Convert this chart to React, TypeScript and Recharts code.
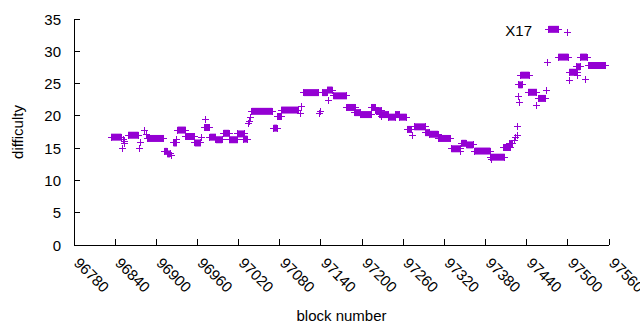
import React from "react";
import { ScatterChart, Scatter, XAxis, YAxis } from "recharts";

const PURPLE = "#9400d3";
const FONT = "'Liberation Sans', Arial, sans-serif";

const xTicks = [96780, 96840, 96900, 96960, 97020, 97080, 97140, 97200, 97260, 97320, 97380, 97440, 97500, 97560];
const yTicks = [0, 5, 10, 15, 20, 25, 30, 35];

// consecutive blocks at one difficulty: [first block, last block, difficulty]
const runs: [number, number, number][] = [
  [96834, 96849, 16.7],
  [96859, 96874, 17.0],
  [96887, 96911, 16.5],
  [96912, 96916, 14.5],
  [96916, 96920, 14.1],
  [96925, 96930, 15.8],
  [96931, 96943, 17.8],
  [96943, 96955, 16.8],
  [96956, 96965, 15.8],
  [96970, 96978, 18.2],
  [96978, 96987, 16.7],
  [96987, 96996, 16.3],
  [96998, 97006, 17.3],
  [97006, 97019, 16.3],
  [97019, 97028, 17.2],
  [97027, 97033, 16.4],
  [97039, 97069, 20.7],
  [97071, 97076, 18.1],
  [97076, 97082, 19.9],
  [97082, 97108, 20.9],
  [97115, 97137, 23.6],
  [97142, 97149, 23.6],
  [97149, 97157, 24.0],
  [97158, 97178, 23.1],
  [97178, 97190, 21.3],
  [97189, 97197, 20.5],
  [97197, 97214, 20.2],
  [97214, 97220, 21.3],
  [97220, 97229, 20.8],
  [97225, 97238, 20.2],
  [97238, 97248, 19.8],
  [97248, 97255, 20.2],
  [97255, 97265, 19.8],
  [97266, 97272, 17.9],
  [97276, 97292, 18.3],
  [97292, 97299, 17.4],
  [97299, 97311, 17.15],
  [97311, 97329, 16.5],
  [97330, 97343, 14.9],
  [97345, 97352, 15.75],
  [97352, 97362, 15.5],
  [97364, 97387, 14.55],
  [97387, 97408, 13.6],
  [97406, 97416, 15.1],
  [97415, 97420, 15.7],
  [97428, 97434, 24.8],
  [97431, 97444, 26.3],
  [97442, 97455, 23.65],
  [97457, 97468, 22.7],
  [97472, 97487, 33.4],
  [97486, 97501, 29.1],
  [97502, 97514, 26.75],
  [97513, 97518, 27.6],
  [97518, 97528, 29.1],
  [97530, 97555, 27.8],
];

// isolated blocks: [block, difficulty]
const singles: [number, number][] = [
  [96850, 15.0], [96852, 16.3], [96853, 16.0], [96854, 15.7],
  [96875, 15.0], [96877, 15.85], [96883, 17.75], [96885, 17.1],
  [96922, 13.8], [96929, 16.4],
  [96966, 16.7], [96971, 19.4],
  [97035, 18.8], [97036, 19.2], [97037, 19.7],
  [97110, 20.4], [97112, 21.5],
  [97138, 20.3], [97140, 20.7], [97151, 22.4],
  [97229, 19.9], [97273, 16.9], [97344, 14.5], [97389, 13.2],
  [97422, 16.2], [97424, 16.6], [97426, 16.9], [97427, 18.4],
  [97428, 23.0], [97429, 22.1], [97455, 21.6],
  [97469, 23.9], [97470, 28.3], [97499, 32.9],
  [97502, 25.5], [97514, 26.2], [97526, 25.7],
];

const singleData = singles.map(([block, diff]) => ({ block, diff }));

const Plus = (props: any) => {
  const { cx, cy } = props;
  if (cx == null || cy == null) return <g />;
  return (
    <path
      d={`M${cx - 3.5},${cy}h7M${cx},${cy - 3.5}v7`}
      stroke={PURPLE}
      strokeWidth={1}
      fill="none"
      shapeRendering="crispEdges"
    />
  );
};

const BottomTick = ({ x, y, payload }: any) => (
  <g>
    <line x1={x} y1={y} x2={x} y2={y - 6} stroke="#000" shapeRendering="crispEdges" />
    <text
      x={x + 3}
      y={y + 15}
      transform={`rotate(45 ${x + 3} ${y + 15})`}
      fontFamily={FONT}
      fontSize={15}
      fill="#000"
      textAnchor="start"
      dominantBaseline="central"
    >
      {payload.value}
    </text>
  </g>
);

const TopTick = ({ x, y }: any) => (
  <line x1={x} y1={y} x2={x} y2={y + 6} stroke="#000" shapeRendering="crispEdges" />
);

const LeftTick = ({ x, y, payload }: any) => (
  <g>
    <line x1={x} y1={y} x2={x + 6} y2={y} stroke="#000" shapeRendering="crispEdges" />
    <text
      x={x - 13}
      y={y}
      fontFamily={FONT}
      fontSize={15}
      fill="#000"
      textAnchor="end"
      dominantBaseline="central"
    >
      {payload.value}
    </text>
  </g>
);

const RightTick = ({ x, y }: any) => (
  <line x1={x} y1={y} x2={x - 6} y2={y} stroke="#000" shapeRendering="crispEdges" />
);

const border = { stroke: "#000", shapeRendering: "crispEdges" };

export default function App() {
  return (
    <div style={{ position: "absolute", left: 0, top: 0, width: 640, height: 330, background: "#fff" }}>
      <ScatterChart width={640} height={330} margin={{ top: 19, right: 31, bottom: 0, left: 0 }}>
        <XAxis
          xAxisId={0}
          type="number"
          dataKey="block"
          domain={[96780, 97560]}
          ticks={xTicks}
          interval={0}
          allowDataOverflow
          height={85}
          tickSize={0}
          tickMargin={0}
          tickLine={false}
          axisLine={border}
          tick={<BottomTick />}
          label={{
            content: ({ viewBox }: any) => (
              <text
                x={viewBox.x + viewBox.width / 2}
                y={viewBox.y + 70}
                fontFamily={FONT}
                fontSize={15}
                fill="#000"
                textAnchor="middle"
                dominantBaseline="central"
              >
                block number
              </text>
            ),
          }}
        />
        <XAxis
          xAxisId="top"
          orientation="top"
          type="number"
          domain={[96780, 97560]}
          ticks={xTicks}
          interval={0}
          height={0}
          tickSize={0}
          tickMargin={0}
          tickLine={false}
          axisLine={border}
          tick={<TopTick />}
        />
        <YAxis
          yAxisId={0}
          type="number"
          dataKey="diff"
          domain={[0, 35]}
          ticks={yTicks}
          interval={0}
          allowDataOverflow
          width={74}
          tickSize={0}
          tickMargin={0}
          tickLine={false}
          axisLine={border}
          tick={<LeftTick />}
          label={{
            content: ({ viewBox }: any) => (
              <text
                x={17}
                y={viewBox.y + viewBox.height / 2}
                transform={`rotate(-90 17 ${viewBox.y + viewBox.height / 2})`}
                fontFamily={FONT}
                fontSize={15}
                fill="#000"
                textAnchor="middle"
                dominantBaseline="central"
              >
                difficulty
              </text>
            ),
          }}
        />
        <YAxis
          yAxisId="right"
          orientation="right"
          type="number"
          domain={[0, 35]}
          ticks={yTicks}
          interval={0}
          width={0}
          tickSize={0}
          tickMargin={0}
          tickLine={false}
          axisLine={border}
          tick={<RightTick />}
        />
        {runs.map(([start, end, diff], i) => (
          <Scatter
            key={`run-${i}`}
            data={[
              { block: start, diff },
              { block: end, diff },
            ]}
            line={{ stroke: PURPLE, strokeWidth: 7 }}
            lineType="joint"
            shape={<Plus />}
            fill={PURPLE}
            isAnimationActive={false}
          />
        ))}
        <Scatter data={singleData} shape={<Plus />} fill={PURPLE} isAnimationActive={false} />
      </ScatterChart>
      <div
        style={{
          position: "absolute",
          right: 108,
          top: 22,
          fontFamily: FONT,
          fontSize: 15,
          lineHeight: "17px",
          color: "#000",
        }}
      >
        X17
      </div>
    </div>
  );
}
